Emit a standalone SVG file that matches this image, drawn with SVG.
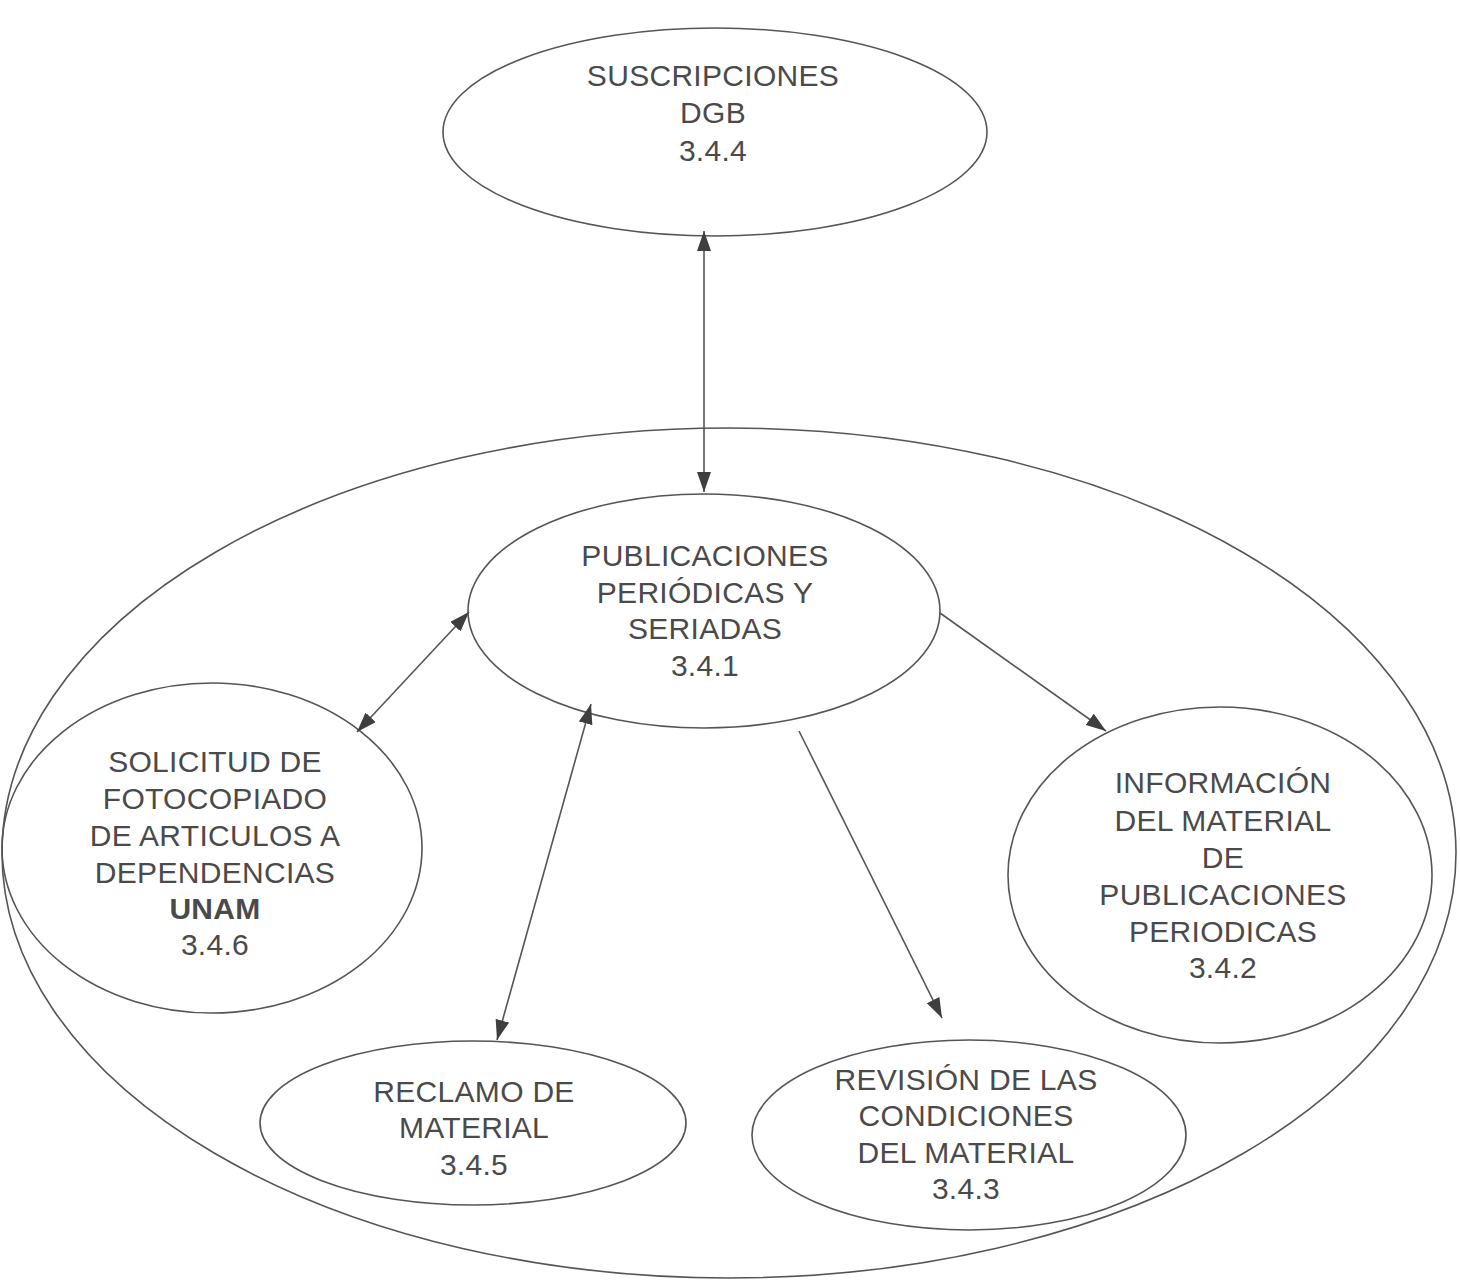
<svg xmlns="http://www.w3.org/2000/svg" width="1460" height="1287" viewBox="0 0 1460 1287">
  <style>
    .node { fill: none; stroke: #555; stroke-width: 1.6; }
    .label { font-family: "Liberation Sans", Arial, sans-serif; font-size: 30px; letter-spacing: 0.3px; fill: #4a4a4a; text-anchor: middle; }
    .bold { font-weight: bold; }
    .link { stroke: #555; stroke-width: 1.6; fill: none; }
    .one { marker-end: url(#head); }
    .two { marker-start: url(#head); marker-end: url(#head); }
  </style>
  <defs>
    <marker id="head" markerUnits="userSpaceOnUse" markerWidth="22" markerHeight="16" refX="20" refY="7" orient="auto-start-reverse">
      <path d="M0,0 L20,7 L0,14 z" fill="#3f3f3f"/>
    </marker>
  </defs>
  <rect width="1460" height="1287" fill="#fff"/>

  <!-- outer boundary of the area -->
  <g id="area">
    <ellipse class="node" cx="729" cy="853" rx="727" ry="425"/>
  </g>

  <g id="suscripciones">
    <ellipse class="node" cx="715" cy="132" rx="272" ry="104"/>
    <text class="label" x="713" y="86">SUSCRIPCIONES</text>
    <text class="label" x="713" y="123">DGB</text>
    <text class="label" x="713" y="161">3.4.4</text>
  </g>

  <g id="publicaciones">
    <ellipse class="node" cx="704" cy="611" rx="236" ry="117"/>
    <text class="label" x="705" y="566">PUBLICACIONES</text>
    <text class="label" x="705" y="603">PERIÓDICAS Y</text>
    <text class="label" x="705" y="639">SERIADAS</text>
    <text class="label" x="705" y="676">3.4.1</text>
  </g>

  <g id="solicitud">
    <ellipse class="node" cx="212" cy="848" rx="210" ry="165"/>
    <text class="label" x="215" y="772">SOLICITUD DE</text>
    <text class="label" x="215" y="809">FOTOCOPIADO</text>
    <text class="label" x="215" y="846">DE ARTICULOS A</text>
    <text class="label" x="215" y="883">DEPENDENCIAS</text>
    <text class="label bold" x="215" y="919">UNAM</text>
    <text class="label" x="215" y="955">3.4.6</text>
  </g>

  <g id="informacion">
    <ellipse class="node" cx="1220" cy="875" rx="212" ry="168"/>
    <text class="label" x="1223" y="793">INFORMACIÓN</text>
    <text class="label" x="1223" y="831">DEL MATERIAL</text>
    <text class="label" x="1223" y="868">DE</text>
    <text class="label" x="1223" y="905">PUBLICACIONES</text>
    <text class="label" x="1223" y="942">PERIODICAS</text>
    <text class="label" x="1223" y="978">3.4.2</text>
  </g>

  <g id="revision">
    <ellipse class="node" cx="969" cy="1135" rx="217" ry="95"/>
    <text class="label" x="966" y="1090">REVISIÓN DE LAS</text>
    <text class="label" x="966" y="1126">CONDICIONES</text>
    <text class="label" x="966" y="1163">DEL MATERIAL</text>
    <text class="label" x="966" y="1199">3.4.3</text>
  </g>

  <g id="reclamo">
    <ellipse class="node" cx="473" cy="1123" rx="213" ry="82"/>
    <text class="label" x="474" y="1102">RECLAMO DE</text>
    <text class="label" x="474" y="1138">MATERIAL</text>
    <text class="label" x="474" y="1175">3.4.5</text>
  </g>

  <g id="connectors">
    <line class="link two" x1="704" y1="231" x2="704" y2="492"/>
    <line class="link two" x1="357" y1="732" x2="469" y2="612"/>
    <line class="link two" x1="497" y1="1040" x2="591" y2="704"/>
    <line class="link one" x1="940" y1="613" x2="1106" y2="731"/>
    <line class="link one" x1="799" y1="731" x2="942" y2="1018"/>
  </g>
</svg>
